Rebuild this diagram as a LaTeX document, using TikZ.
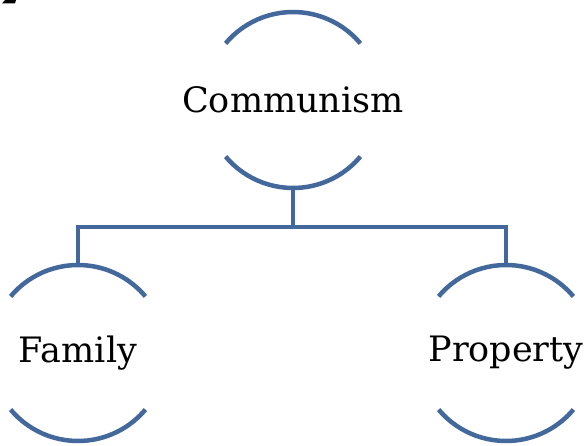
\documentclass[tikz,border=0pt]{standalone}
\usepackage{fontspec}
\setmainfont{DejaVu Serif}
\definecolor{arcblue}{HTML}{43689B}
\tikzset{
	topic/.style={inner sep=0pt, font=\fontsize{35}{40}\selectfont},
	bar/.style={arcblue, line width=4.5pt}
}
\begin{document}
\begin{tikzpicture}[x=1pt,y=1pt]
	\def\r{88}
	\useasboundingbox (0,0) rectangle (584,445);
	% stray mark in the corner
	\fill (2,441.5) -- (5,445) -- (16,445) -- (15,441.5) -- cycle;
	% the three topics
	\node[topic] (comm) at (293,345) {Communism};
	\node[topic] (fam) at (78,92) {Family};
	\node[topic] (prop) at (506,92) {Property};
	\foreach \n in {comm,fam,prop}{
		\draw[bar] (\n.center) ++(140:\r) arc[start angle=140, end angle=40, radius=\r];
		\draw[bar] (\n.center) ++(220:\r) arc[start angle=220, end angle=320, radius=\r];
		\coordinate (\n-top) at ([yshift=\r pt]\n.center);
		\coordinate (\n-bot) at ([yshift=-\r pt]\n.center);
	}
	% connectors
	\coordinate (J) at (293,218);
	\draw[bar] (comm-bot) -- (J);
	\draw[bar] (fam-top) -- (fam-top |- J) -- (prop-top |- J) -- (prop-top);
\end{tikzpicture}
\end{document}
